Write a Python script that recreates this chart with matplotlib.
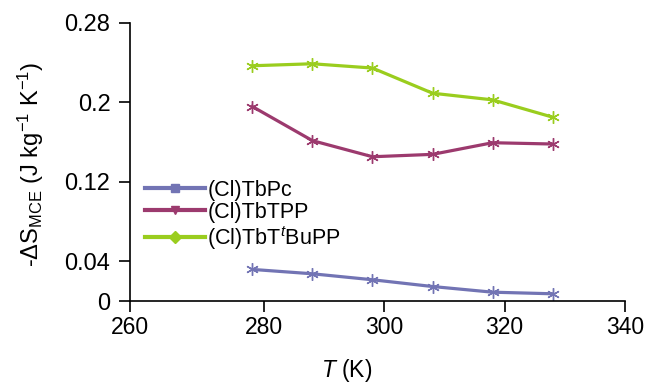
import numpy as np
import matplotlib
matplotlib.use("Agg")
import matplotlib.pyplot as plt
from matplotlib.lines import Line2D

plt.rcParams['font.family'] = ['Liberation Sans', 'DejaVu Sans']
plt.rcParams['mathtext.fontset'] = 'custom'
plt.rcParams['mathtext.rm'] = 'Liberation Sans'
plt.rcParams['mathtext.it'] = 'Liberation Sans:italic'

# temperatures (K)
T = [278, 288, 298, 308, 318, 328]
# -dS_MCE values
pc = [0.0318, 0.0274, 0.0214, 0.0146, 0.0089, 0.0073]
tpp = [0.1956, 0.1613, 0.1451, 0.1475, 0.1592, 0.1579]
tbupp = [0.2366, 0.2386, 0.2343, 0.2090, 0.2023, 0.1849]

names = ['(Cl)TbPc', '(Cl)TbTPP', r'(Cl)TbT$^{\mathit{t}}$BuPP']
colors = ['#7274b4', '#9c3a6e', '#9acd1e']
legend_markers = ['s', 'v', 'D']

yticks = [0, 0.04, 0.12, 0.2, 0.28]
ytick_labels = ['0', '0.04', '0.12', '0.2', '0.28']
xticks = [280, 300, 320, 340]
xtick_labels = ['260', '280', '300', '320', '340']

fig = plt.figure(figsize=(6.46, 3.83), dpi=100)
ax = fig.add_axes([0.201, 0.214, 0.766, 0.727])

for ys, c in zip([pc, tpp, tbupp], colors):
    ax.plot(T, ys, color=c, lw=2.3, marker=(6, 2, 0), ms=9, mew=1.0)

xmin = 257.6
ax.set_xlim(xmin, 340)
ax.set_ylim(0, 0.28)
ax.set_xticks([xmin] + xticks)
ax.set_xticklabels(xtick_labels)
ax.set_yticks(yticks)
ax.set_yticklabels(ytick_labels)
ax.spines['top'].set_visible(False)
ax.spines['right'].set_visible(False)
ax.tick_params(direction='out', length=8, width=1.2, labelsize=16.5, pad=3)
ax.tick_params(axis='y', labelsize=17, pad=6)
for s in ['left', 'bottom']:
    ax.spines[s].set_linewidth(1.2)

ax.set_xlabel('$T$ (K)', fontsize=16.5)
ax.xaxis.set_label_coords(0.438, -0.2)
ax.set_ylabel(r'-ΔS$_{\mathrm{MCE}}$ (J kg$^{-1}$ K$^{-1}$)', fontsize=17, va='center')
ax.yaxis.set_label_coords(-0.2, 0.49)

handles = [Line2D([0], [0], color=c, lw=3, marker=m, ms=6)
           for c, m in zip(colors, legend_markers)]
ax.legend(handles, names, loc='upper left', bbox_to_anchor=(0.0, 0.49),
          frameon=False, fontsize=15.5, handlelength=2.8, handletextpad=0.1,
          labelspacing=0.05, borderaxespad=0.3)

fig.savefig('out.png', dpi=100)
